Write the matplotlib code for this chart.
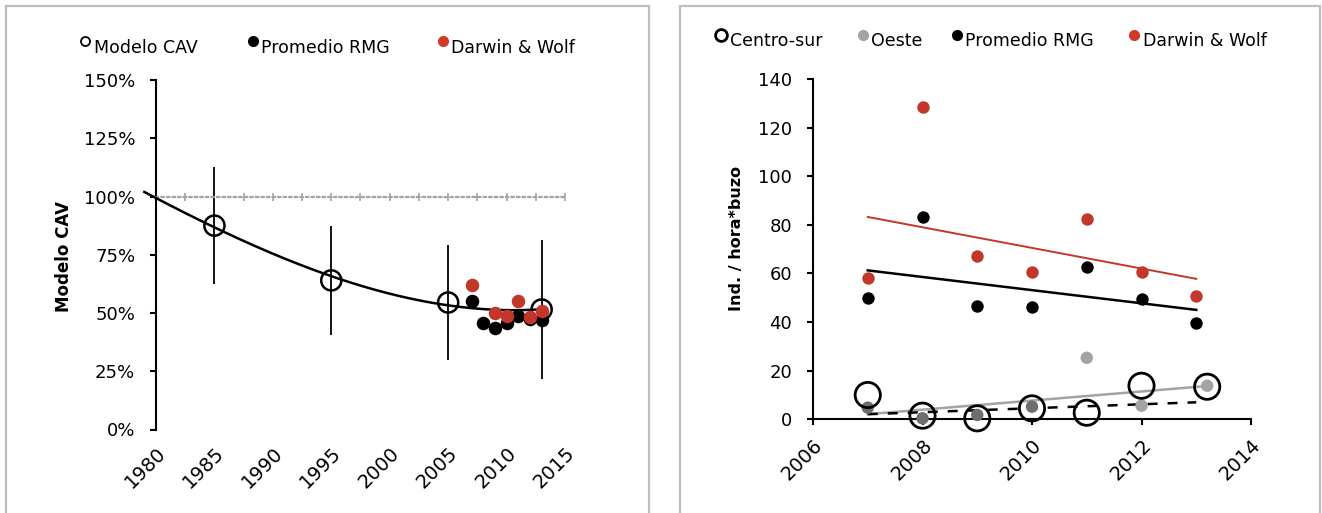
import numpy as np
import matplotlib
matplotlib.use('Agg')
import matplotlib.pyplot as plt
from matplotlib.lines import Line2D
from matplotlib.patches import Rectangle
from matplotlib.ticker import MultipleLocator, FuncFormatter, FixedLocator

plt.rcParams['font.family'] = ['DejaVu Sans']

# ---------------- Left panel data ----------------
cav_years = [1985, 1995, 2005, 2013]
cav_values = [0.875, 0.64, 0.545, 0.515]
cav_err = [0.25, 0.235, 0.245, 0.30]
curve_years = [1979, 1980, 1985, 1988.4, 1995, 2000, 2005, 2010, 2012.5, 2013]
curve_values = [1.009, 1.0, 0.877, 0.794, 0.639, 0.583, 0.543, 0.517, 0.511, 0.513]
rmg_years_l = [2007, 2008, 2009, 2010, 2011, 2012, 2013]
rmg_values_l = [0.55, 0.455, 0.436, 0.455, 0.489, 0.474, 0.471]
dw_years_l = [2007, 2009, 2010, 2011, 2012, 2013]
dw_values_l = [0.619, 0.50, 0.489, 0.552, 0.481, 0.507]
left_xticks = [1980, 1985, 1990, 1995, 2000, 2005, 2010, 2015]
left_yticks = [0, 0.25, 0.5, 0.75, 1.0, 1.25, 1.5]
reference_level = 1.0

# ---------------- Right panel data ----------------
years_r = [2007, 2008, 2009, 2010, 2011, 2012, 2013]
cs_years = [2007, 2008, 2009, 2010, 2011, 2012, 2013.2]
cs_values = [10.0, 1.5, 0.4, 4.5, 2.7, 13.8, 13.4]
oeste_years = [2007, 2008, 2009, 2010, 2011, 2012, 2013.2]
oeste_values = [4.8, 0.4, 1.8, 5.2, 25.3, 5.6, 13.8]
rmg_values_r = [49.8, 83.3, 46.6, 46.4, 62.8, 49.5, 39.5]
dw_values_r = [58.3, 128.3, 67.2, 60.4, 82.3, 60.8, 50.8]
oeste_trend_years = [2007, 2013.2]
oeste_trend_values = [2.1, 13.7]
cs_trend_years = [2007, 2013]
cs_trend_values = [2.1, 7.0]
right_xticks = [2006, 2008, 2010, 2012, 2014]
right_yticks = [0, 20, 40, 60, 80, 100, 120, 140]

RED = '#C3362A'
GREY = '#A3A3A3'
DGREY = '#6E6E6E'
FS_TICK = 13
FS_XTICK = 14
FS_LEG = 12.5
FS_LAB = 12

W, H = 1322, 513
fig = plt.figure(figsize=(W / 100, H / 100), dpi=100)

def fx(px):
    return px / W

def fy(py):
    return 1 - py / H

# panel frames
for x0, x1 in [(6, 649), (680, 1320)]:
    fig.add_artist(Rectangle((fx(x0), -0.1), fx(x1) - fx(x0), fy(6) + 0.1,
                             transform=fig.transFigure, fill=False,
                             edgecolor='#BDBDBD', lw=1.6, clip_on=False))

# ---------------- Left axes ----------------
axL = fig.add_axes([fx(156), fy(429.5), fx(565) - fx(156), fy(80) - fy(429.5)])
axL.set_xlim(1980, 2015)
axL.set_ylim(0, 1.5)
for s in ['right', 'bottom']:
    axL.spines[s].set_visible(False)
axL.spines['left'].set_linewidth(1.5)
axL.spines['top'].set_position(('data', reference_level))
axL.spines['top'].set_color(GREY)
axL.spines['top'].set_linestyle((0, (1, 1.5)))
axL.spines['top'].set_linewidth(1.6)
axL.xaxis.set_major_locator(FixedLocator(left_xticks))
axL.xaxis.set_minor_locator(MultipleLocator(2.5))
axL.tick_params(axis='x', which='both', top=True, bottom=False, labeltop=False,
                labelbottom=True, direction='inout', color=GREY, length=6,
                width=1.2, labelsize=FS_XTICK, pad=7)
axL.set_xticks(left_xticks)
axL.set_xticklabels([str(t) for t in left_xticks], rotation=45, ha='right',
                    va='top', rotation_mode='anchor')
axL.set_yticks(left_yticks)
axL.yaxis.set_major_formatter(FuncFormatter(lambda v, p: f'{v*100:.0f}%'))
axL.tick_params(axis='y', direction='out', length=4, width=1.5, labelsize=FS_TICK, pad=11)

# trend curve (cubic fit through points)
coef = np.polyfit(np.array(curve_years) - 1980, curve_values, 3)
tt = np.linspace(curve_years[0], curve_years[-1], 200)
axL.plot(tt, np.polyval(coef, tt - 1980), color='black', lw=1.8, clip_on=False, zorder=3)

axL.errorbar(cav_years, cav_values, yerr=cav_err, fmt='none', ecolor='black',
             elinewidth=1.3, capsize=0, zorder=2)
axL.scatter(cav_years, cav_values, s=210, facecolor='none', edgecolor='black',
            linewidths=1.8, zorder=4)
axL.scatter(rmg_years_l, rmg_values_l, s=95, color='black', zorder=5, linewidths=0)
axL.scatter(dw_years_l, dw_values_l, s=95, color=RED, zorder=6, linewidths=0)

# ---------------- Right axes ----------------
axR = fig.add_axes([fx(813), fy(419.3), fx(1251) - fx(813), fy(79) - fy(419.3)])
axR.set_xlim(2006, 2014)
axR.set_ylim(0, 140)
for s in ['right', 'top']:
    axR.spines[s].set_visible(False)
for s in ['left', 'bottom']:
    axR.spines[s].set_linewidth(1.5)
axR.set_xticks(right_xticks)
axR.set_xticklabels([str(t) for t in right_xticks], rotation=45, ha='right',
                    va='top', rotation_mode='anchor')
axR.set_yticks(right_yticks)
axR.tick_params(axis='both', direction='out', length=4, width=1.5, labelsize=FS_TICK)
axR.tick_params(axis='y', pad=11)
axR.tick_params(axis='x', pad=8, labelsize=FS_XTICK)


def exp_trend(x, y):
    x = np.asarray(x, float)
    b, a = np.polyfit(x, np.log(y), 1)
    xs = np.array([x.min(), x.max()])
    return xs, np.exp(a + b * xs)

xs, ys = exp_trend(years_r, dw_values_r)
axR.plot(xs, ys, color=RED, lw=1.4, zorder=2)
xs, ys = exp_trend(years_r, rmg_values_r)
axR.plot(xs, ys, color='black', lw=1.8, zorder=2)
axR.plot(oeste_trend_years, oeste_trend_values, color=GREY, lw=1.8, zorder=2, clip_on=False)
axR.plot(cs_trend_years, cs_trend_values, color='black', lw=1.8, ls=(0, (4, 4)), zorder=2)

axR.scatter(years_r, dw_values_r, s=80, color=RED, zorder=4, linewidths=0)
axR.scatter(years_r, rmg_values_r, s=80, color='black', zorder=4, linewidths=0)
oeste_cols = [DGREY, DGREY, DGREY, DGREY, GREY, GREY, GREY]
axR.scatter(oeste_years, oeste_values, s=80, color=oeste_cols, zorder=4, linewidths=0,
            clip_on=False)
axR.scatter(cs_years, cs_values, s=330, facecolor='none', edgecolor='black',
            linewidths=2.0, zorder=5, clip_on=False)

# ---------------- Legends ----------------
def legend_item(mx, my, tx, tbase, label, marker_kw):
    fig.add_artist(Line2D([fx(mx)], [fy(my)], transform=fig.transFigure,
                          marker='o', linestyle='none', **marker_kw))
    fig.text(fx(tx), fy(tbase), label, fontsize=FS_LEG, va='baseline', ha='left')

open_kw = dict(markersize=6.5, markerfacecolor='white', markeredgecolor='black',
               markeredgewidth=1.3)
dot = lambda c: dict(markersize=7, markerfacecolor=c, markeredgecolor=c)

legend_item(85, 41, 94, 53, 'Modelo CAV', open_kw)
legend_item(253, 41, 261, 53, 'Promedio RMG', dot('black'))
legend_item(443, 41, 451, 53, 'Darwin & Wolf', dot('#D23A28'))

legend_item(721, 35, 730, 46, 'Centro-sur', dict(markersize=8.5, markerfacecolor='white',
                                                   markeredgecolor='black', markeredgewidth=2))
legend_item(863, 35, 871, 46, 'Oeste', dot(GREY))
legend_item(957, 35, 965, 46, 'Promedio RMG', dot('black'))
legend_item(1134, 35, 1143, 46, 'Darwin & Wolf', dot('#D23A28'))

# ---------------- Axis titles ----------------
fig.text(fx(64), fy(257), 'Modelo CAV', rotation=90, fontsize=FS_LAB,
         fontweight='bold', ha='center', va='center')
fig.text(fx(736), fy(238), 'Ind. / hora*buzo', rotation=90, fontsize=FS_LAB - 0.5,
         fontweight='bold', ha='center', va='center')

fig.savefig('out.png', dpi=100)
